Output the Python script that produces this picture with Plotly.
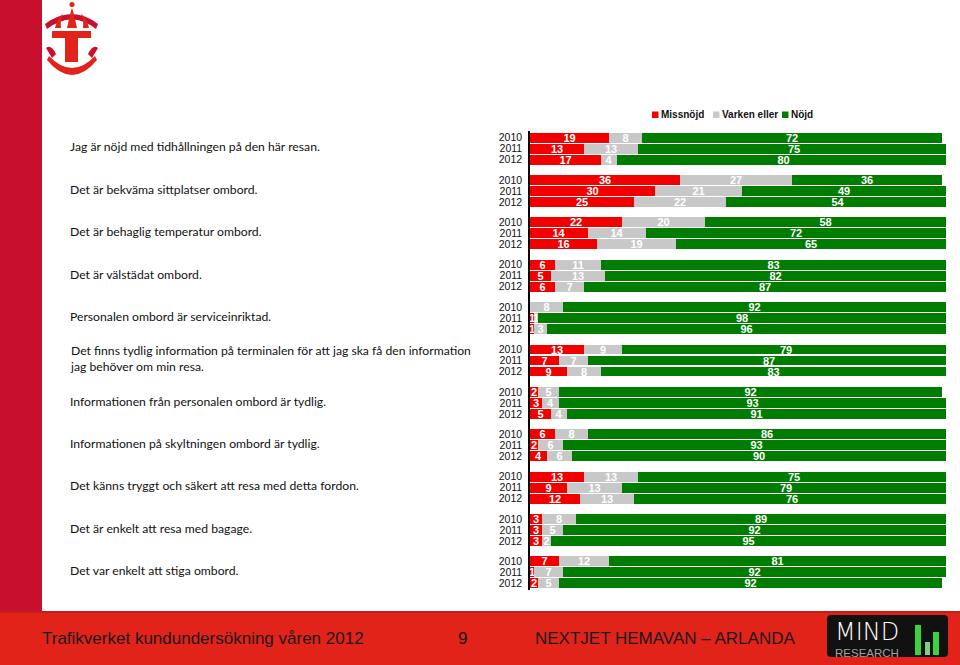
import plotly.graph_objects as go

questions = [
    "Jag är nöjd med tidhållningen på den här resan.",
    "Det är bekväma sittplatser ombord.",
    "Det är behaglig temperatur ombord.",
    "Det är välstädat ombord.",
    "Personalen ombord är serviceinriktad.",
    "Det finns tydlig information på terminalen för att jag ska få den information<br>jag behöver om min resa.",
    "Informationen från personalen ombord är tydlig.",
    "Informationen på skyltningen ombord är tydlig.",
    "Det känns tryggt och säkert att resa med detta fordon.",
    "Det är enkelt att resa med bagage.",
    "Det var enkelt att stiga ombord.",
]
years = ["2010", "2011", "2012"]

missnojd = [[19, 13, 17], [36, 30, 25], [22, 14, 16], [6, 5, 6], [0, 1, 1], [13, 7, 9],
            [2, 3, 5], [6, 2, 4], [13, 9, 12], [3, 3, 3], [7, 1, 2]]
varken = [[8, 13, 4], [27, 21, 22], [20, 14, 19], [11, 13, 7], [8, 1, 3], [9, 7, 8],
          [5, 4, 4], [8, 6, 6], [13, 13, 13], [8, 5, 2], [12, 7, 5]]
nojd = [[72, 75, 80], [36, 49, 54], [58, 72, 65], [83, 82, 87], [92, 98, 96], [79, 87, 83],
        [92, 93, 91], [86, 93, 90], [75, 79, 76], [89, 92, 95], [81, 92, 92]]

series_names = ["Missnöjd", "Varken eller", "Nöjd"]
series_colors = ["#f20000", "#c8c8c8", "#007d00"]
series_values = [missnojd, varken, nojd]

GROUP_STEP = 3.846
pos, ticktext = [], []
for g in range(len(questions)):
    for k, yr in enumerate(years):
        pos.append(g * GROUP_STEP + k)
        ticktext.append(yr)

fig = go.Figure()
for name, vals, col in zip(series_names, series_values, series_colors):
    flat = [v for grp in vals for v in grp]
    fig.add_trace(go.Bar(
        y=pos, x=flat, orientation="h", name=name,
        marker=dict(color=col, line=dict(width=0)),
        width=0.9,
        text=[str(v) for v in flat], textposition="inside", textangle=0,
        insidetextanchor="middle",
        textfont=dict(family="Liberation Sans, Arial", size=11, color="white", weight="bold"),
        hoverinfo="skip", showlegend=False,
    ))

# plot area in pixels
L, R, T, B = 530, 946, 131, 590
W, H = R - L, B - T
def px(x):
    return (x - L) / W
def py(y):
    return (B - y) / H

annotations = []
for g, q in enumerate(questions):
    annotations.append(dict(
        x=px(68), xref="paper", y=g * GROUP_STEP + 0.85, yref="y",
        text=q, showarrow=False, xanchor="left", yanchor="middle", align="left",
        font=dict(family="Lato, Open Sans, sans-serif", size=12.2, color="#111111"),
    ))

# legend (squares + names, built from the series lists)
legend_sq = [652, 713, 782]
for sx, name, col in zip(legend_sq, series_names, series_colors):
    annotations.append(dict(
        x=px(sx + 7), y=py(115), xref="paper", yref="paper", text=name,
        showarrow=False, xanchor="left", yanchor="middle",
        font=dict(family="Liberation Sans, Arial", size=10, color="#111111", weight="bold"),
    ))

footer_font = dict(family="Liberation Sans, Arial", size=17, color="#1a1a1a")
annotations += [
    dict(x=px(40), y=py(638), xref="paper", yref="paper", text="Trafikverket kundundersökning våren 2012",
         showarrow=False, xanchor="left", yanchor="middle", font=footer_font),
    dict(x=px(462), y=py(638), xref="paper", yref="paper", text="9",
         showarrow=False, xanchor="center", yanchor="middle", font=footer_font),
    dict(x=px(533), y=py(638), xref="paper", yref="paper", text="NEXTJET HEMAVAN – ARLANDA",
         showarrow=False, xanchor="left", yanchor="middle", font=footer_font),
    dict(x=px(833), y=py(632), xref="paper", yref="paper", text="MIND",
         showarrow=False, xanchor="left", yanchor="middle",
         font=dict(family="DejaVu Sans", size=24, color="white", weight=200)),
    dict(x=px(833), y=py(652.5), xref="paper", yref="paper", text="RESEARCH",
         showarrow=False, xanchor="left", yanchor="middle",
         font=dict(family="Liberation Sans, Arial", size=11.5, color="#a0a0a0")),
]

def rect(x0, y0, x1, y1, color, layer="below"):
    return dict(type="rect", xref="paper", yref="paper", x0=px(x0), x1=px(x1), y0=py(y0), y1=py(y1),
                fillcolor=color, line=dict(width=0), layer=layer)

def path(d_pts, color, layer="below"):
    return dict(type="path", xref="paper", yref="paper", path=d_pts,
                fillcolor=color, line=dict(width=0), layer=layer)

def P(x, y):
    return f"{px(x):.5f},{py(y):.5f}"

shapes = [
    rect(0, 0, 42, 612, "#c8102e"),
    rect(0, 612, 960, 665, "#e2231a"),
    rect(0, 611, 960, 613, "#c41e1a"),
    # MIND logo
    path(f"M {P(831,615)} L {P(944,615)} Q {P(948,615)} {P(948,619)} L {P(948,653)} "
         f"Q {P(948,657)} {P(944,657)} L {P(831,657)} Q {P(827,657)} {P(827,653)} "
         f"L {P(827,619)} Q {P(827,615)} {P(831,615)} Z", "#111111", "above"),
    rect(915, 625, 921, 655, "#3cd23c", "above"),
    rect(925, 642, 930, 655, "#7fd07f", "above"),
    rect(933, 632, 939, 655, "#3cd23c", "above"),
    # Trafikverket logo (approximation)
    rect(52, 31, 91, 38, "#e2231a", "above"),
    rect(65, 38, 78, 62, "#e2231a", "above"),
    path(f"M {P(47,60)} Q {P(72,90)} {P(97,60)} L {P(95,56)} Q {P(72,80)} {P(49,56)} Z", "#e2231a", "above"),
    path(f"M {P(45,24)} Q {P(72,4)} {P(98,24)} L {P(96,29)} Q {P(72,10)} {P(47,29)} Z", "#c8102e", "above"),
    path(f"M {P(67,28)} Q {P(71,10)} {P(72,8)} Q {P(73,10)} {P(77,28)} Z", "#e2231a", "above"),
    path(f"M {P(55,28)} Q {P(58,16)} {P(63,14)} Q {P(60,20)} {P(61,28)} Z", "#e2231a", "above"),
    path(f"M {P(89,28)} Q {P(86,16)} {P(81,14)} Q {P(84,20)} {P(83,28)} Z", "#e2231a", "above"),
    path(f"M {P(46,48)} Q {P(51,44)} {P(56,54)} L {P(52,58)} Z", "#c8102e", "above"),
    path(f"M {P(98,48)} Q {P(93,44)} {P(88,54)} L {P(92,58)} Z", "#c8102e", "above"),
    dict(type="circle", xref="paper", yref="paper", x0=px(69.5), x1=px(74.5), y0=py(2), y1=py(7),
         fillcolor="#e2231a", line=dict(width=0), layer="above"),
]
for sx, col in zip(legend_sq, series_colors):
    shapes.append(rect(sx, 111.5, sx + 6.5, 118, col, "above"))

fig.update_layout(
    width=960, height=665,
    margin=dict(l=L, r=960 - R, t=T, b=665 - B, pad=0),
    barmode="stack",
    bargap=0,
    paper_bgcolor="white", plot_bgcolor="white",
    uniformtext=dict(mode="show", minsize=11),
    showlegend=False,
    xaxis=dict(range=[0, 100], visible=False, fixedrange=True),
    yaxis=dict(range=[10 * GROUP_STEP + 2.6, -0.6], tickvals=pos, ticktext=ticktext,
               showline=True, linecolor="black", linewidth=1.5, showgrid=False, zeroline=False,
               ticks="", ticklabelstandoff=4,
               tickfont=dict(family="Liberation Sans, Arial", size=10.5, color="#111111")),
    annotations=annotations,
    shapes=shapes,
)

fig.write_html("out.html", config={"displayModeBar": False},
               post_script="document.body.style.margin='0px';document.body.style.overflow='hidden';")
